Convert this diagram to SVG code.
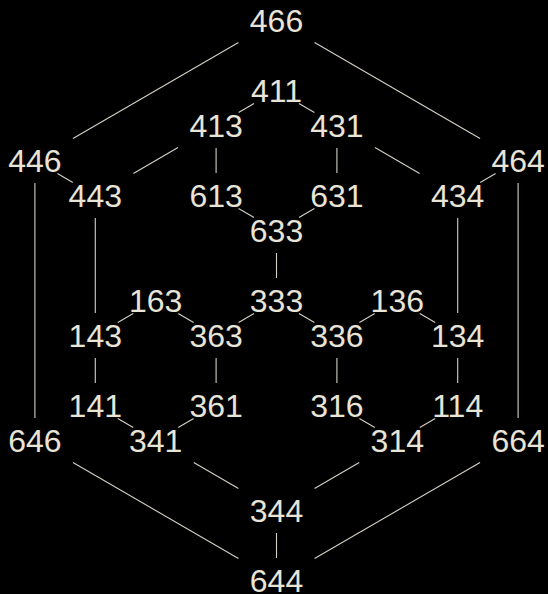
<svg xmlns="http://www.w3.org/2000/svg" width="548" height="594" viewBox="0 0 548 594">
<style>
.bg{fill:#000}
.e line{stroke:#d4d0c4;stroke-width:1.1;fill:none}
.n text{font-family:"Liberation Sans",Arial,sans-serif;font-size:32px;fill:#e8e4d8;text-anchor:middle}
</style>
<rect class="bg" x="0" y="0" width="548" height="594"/>
<g id="connectors" class="e">
<line x1="238.43" y1="42.56" x2="72.97" y2="138.44"/>
<line x1="314.57" y1="42.56" x2="480.03" y2="138.44"/>
<line x1="178.03" y1="147.56" x2="133.37" y2="173.44"/>
<line x1="374.97" y1="147.56" x2="419.63" y2="173.44"/>
<line x1="193.77" y1="462.56" x2="238.43" y2="488.44"/>
<line x1="359.23" y1="462.56" x2="314.57" y2="488.44"/>
<line x1="72.97" y1="462.56" x2="238.43" y2="558.44"/>
<line x1="480.03" y1="462.56" x2="314.57" y2="558.44"/>
<line x1="254" y1="103.54" x2="238.6" y2="112.46"/>
<line x1="299" y1="103.54" x2="314.4" y2="112.46"/>
<line x1="57.4" y1="173.54" x2="72.8" y2="182.46"/>
<line x1="495.6" y1="173.54" x2="480.2" y2="182.46"/>
<line x1="238.6" y1="208.54" x2="254" y2="217.46"/>
<line x1="314.4" y1="208.54" x2="299" y2="217.46"/>
<line x1="133.2" y1="313.54" x2="117.8" y2="322.46"/>
<line x1="178.2" y1="313.54" x2="193.6" y2="322.46"/>
<line x1="254" y1="313.54" x2="238.6" y2="322.46"/>
<line x1="299" y1="313.54" x2="314.4" y2="322.46"/>
<line x1="374.8" y1="313.54" x2="359.4" y2="322.46"/>
<line x1="419.8" y1="313.54" x2="435.2" y2="322.46"/>
<line x1="117.8" y1="418.54" x2="133.2" y2="427.46"/>
<line x1="193.6" y1="418.54" x2="178.2" y2="427.46"/>
<line x1="359.4" y1="418.54" x2="374.8" y2="427.46"/>
<line x1="435.2" y1="418.54" x2="419.8" y2="427.46"/>
<line x1="216.1" y1="148" x2="216.1" y2="173"/>
<line x1="336.9" y1="148" x2="336.9" y2="173"/>
<line x1="34.9" y1="183" x2="34.9" y2="418"/>
<line x1="518.1" y1="183" x2="518.1" y2="418"/>
<line x1="95.3" y1="218" x2="95.3" y2="313"/>
<line x1="457.7" y1="218" x2="457.7" y2="313"/>
<line x1="276.5" y1="253" x2="276.5" y2="278"/>
<line x1="95.3" y1="358" x2="95.3" y2="383"/>
<line x1="216.1" y1="358" x2="216.1" y2="383"/>
<line x1="336.9" y1="358" x2="336.9" y2="383"/>
<line x1="457.7" y1="358" x2="457.7" y2="383"/>
<line x1="276.5" y1="533" x2="276.5" y2="558"/>
</g>
<g class="n">
<g id="n466"><text x="276.5" y="31.5">466</text></g>
<g id="n411"><text x="276.5" y="101.5">411</text></g>
<g id="n413"><text x="216.1" y="136.5">413</text></g>
<g id="n431"><text x="336.9" y="136.5">431</text></g>
<g id="n446"><text x="34.9" y="171.5">446</text></g>
<g id="n464"><text x="518.1" y="171.5">464</text></g>
<g id="n443"><text x="95.3" y="206.5">443</text></g>
<g id="n613"><text x="216.1" y="206.5">613</text></g>
<g id="n631"><text x="336.9" y="206.5">631</text></g>
<g id="n434"><text x="457.7" y="206.5">434</text></g>
<g id="n633"><text x="276.5" y="241.5">633</text></g>
<g id="n163"><text x="155.7" y="311.5">163</text></g>
<g id="n333"><text x="276.5" y="311.5">333</text></g>
<g id="n136"><text x="397.3" y="311.5">136</text></g>
<g id="n143"><text x="95.3" y="346.5">143</text></g>
<g id="n363"><text x="216.1" y="346.5">363</text></g>
<g id="n336"><text x="336.9" y="346.5">336</text></g>
<g id="n134"><text x="457.7" y="346.5">134</text></g>
<g id="n141"><text x="95.3" y="416.5">141</text></g>
<g id="n361"><text x="216.1" y="416.5">361</text></g>
<g id="n316"><text x="336.9" y="416.5">316</text></g>
<g id="n114"><text x="457.7" y="416.5">114</text></g>
<g id="n646"><text x="34.9" y="451.5">646</text></g>
<g id="n341"><text x="155.7" y="451.5">341</text></g>
<g id="n314"><text x="397.3" y="451.5">314</text></g>
<g id="n664"><text x="518.1" y="451.5">664</text></g>
<g id="n344"><text x="276.5" y="521.5">344</text></g>
<g id="n644"><text x="276.5" y="591.5">644</text></g>
</g>
</svg>
